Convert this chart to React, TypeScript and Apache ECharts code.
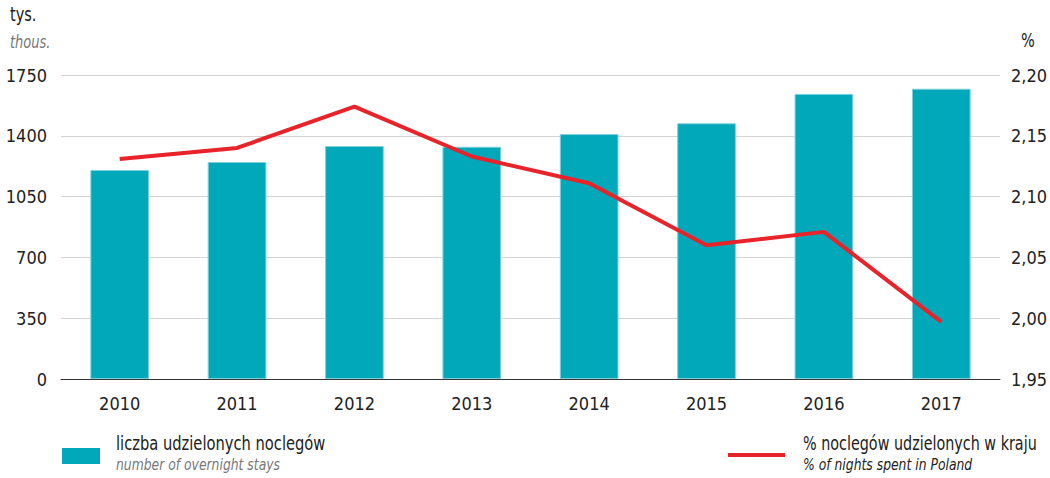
import React, { useEffect, useRef } from "react";
import * as echarts from "echarts";

const years = ["2010", "2011", "2012", "2013", "2014", "2015", "2016", "2017"];
const overnightStays = [1203, 1249, 1341, 1337, 1410, 1472, 1641, 1671];
const sharePoland = [2.131, 2.14, 2.174, 2.133, 2.111, 2.06, 2.071, 1.997];

const FONT = "'DejaVu Sans Condensed', 'Liberation Sans Narrow', sans-serif";
const TEAL = "#00a8ba";
const RED = "#e8232a";

export default function App() {
  const ref = useRef<HTMLDivElement>(null);
  useEffect(() => {
    if (!ref.current) return;
    const chart = echarts.init(ref.current, null, { renderer: "svg" });
    const txt = (text: string, x: number, y: number, size: number, italic: boolean, fill: string, sx: number) => ({
      type: "text",
      x,
      y,
      scaleX: sx,
      style: { text, fontSize: size, fontStyle: italic ? "italic" : "normal", fontFamily: FONT, fill, textVerticalAlign: "top" },
    });
    chart.setOption({
      animation: false,
      grid: { left: 61, right: 48, top: 75, bottom: 99 },
      xAxis: {
        type: "category",
        data: years,
        axisLine: { lineStyle: { color: "#333", width: 1 } },
        axisTick: { show: false },
        axisLabel: { color: "#222", fontSize: 18, fontFamily: FONT, margin: 15 },
      },
      yAxis: [
        {
          type: "value",
          min: 0,
          max: 1750,
          interval: 350,
          axisLine: { show: false },
          axisTick: { show: false },
          splitLine: { lineStyle: { color: "#d4d4d4", width: 1 } },
          axisLabel: { color: "#222", fontSize: 18, fontFamily: FONT, margin: 14, formatter: (v: number) => String(v) },
        },
        {
          type: "value",
          min: 1.95,
          max: 2.2,
          interval: 0.05,
          axisLine: { show: false },
          axisTick: { show: false },
          splitLine: { show: false },
          axisLabel: {
            color: "#222",
            fontSize: 18,
            fontFamily: FONT,
            margin: 11,
            formatter: (v: number) => v.toFixed(2).replace(".", ","),
          },
        },
      ],
      series: [
        {
          type: "bar",
          data: overnightStays,
          yAxisIndex: 0,
          barWidth: "50%",
          itemStyle: { color: TEAL, borderColor: "#7fd0da", borderWidth: 1 },
        },
        {
          type: "line",
          data: sharePoland,
          yAxisIndex: 1,
          symbol: "none",
          lineStyle: { color: RED, width: 4 },
        },
      ],
      graphic: [
        txt("tys.", 10, 5, 19, false, "#222", 0.85),
        txt("thous.", 10, 34, 17, true, "#777", 0.85),
        txt("%", 1021, 31, 19, false, "#222", 0.85),
        { type: "rect", shape: { x: 62, y: 448, width: 38, height: 16 }, style: { fill: TEAL } },
        txt("liczba udzielonych noclegów", 116, 434, 19, false, "#222", 0.86),
        txt("number of overnight stays", 116, 457, 16, true, "#777", 0.86),
        { type: "line", shape: { x1: 728, y1: 455, x2: 785, y2: 455 }, style: { stroke: RED, lineWidth: 4 } },
        txt("% noclegów udzielonych w kraju", 803, 434, 19, false, "#222", 0.84),
        txt("% of nights spent in Poland", 803, 457, 16, true, "#222", 0.86),
      ],
    });
    return () => chart.dispose();
  }, []);
  return <div ref={ref} style={{ width: 1050, height: 478, position: "absolute", left: 0, top: 0 }} />;
}
